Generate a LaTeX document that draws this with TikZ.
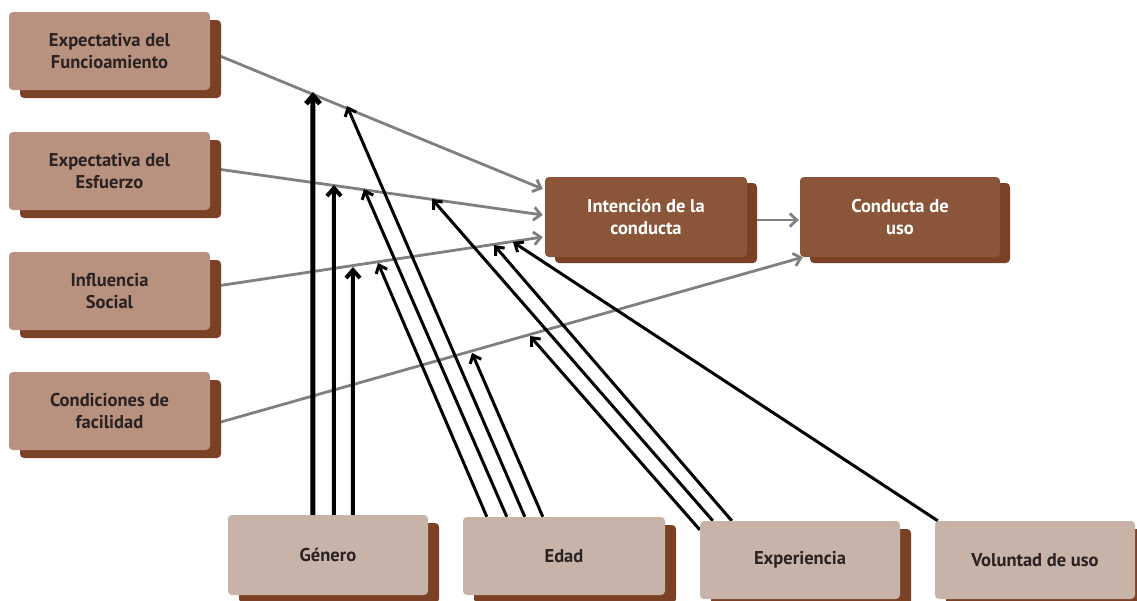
\documentclass[tikz,border=0pt]{standalone}
\usepackage{fontspec}
\setmainfont{PT Sans}
\usetikzlibrary{arrows.meta,shadows,calc}
\pgfdeclarelayer{bg}
\pgfdeclarelayer{links}
\pgfsetlayers{bg,links,main}
\definecolor{boxleft}{HTML}{B8927F}
\definecolor{boxbottom}{HTML}{C8B3A8}
\definecolor{boxdark}{HTML}{8A5538}
\definecolor{shade}{HTML}{7B4124}
\definecolor{link}{HTML}{808080}
\definecolor{ink}{HTML}{2A2222}
\tikzset{
  x=1pt, y=-1pt,
  card/.style={rounded corners=4pt, inner sep=0pt, align=center,
    font=\bfseries\fontsize{18.5}{22}\selectfont},
  factor/.style={card, fill=boxleft, text=ink, minimum width=201pt, minimum height=78pt,
    general shadow={fill=shade, shadow xshift=11pt, shadow yshift=-8pt}},
  outcome/.style={card, fill=boxdark, text=white, minimum width=202pt, minimum height=80pt,
    general shadow={fill=shade, shadow xshift=10pt, shadow yshift=-6pt}},
  moderator/.style={card, fill=boxbottom, text=ink, minimum width=200pt, minimum height=78pt,
    general shadow={fill=shade, shadow xshift=11pt, shadow yshift=-8pt}},
  effect/.style={draw=link, line width=2.8pt, -{Straight Barb[length=7pt,width=13pt]}},
  modarrow/.style={draw=black, line width=3pt, -{Straight Barb[length=7pt,width=12pt]}},
  boldmod/.style={modarrow, -{Straight Barb[length=8pt,width=14pt]}},
}
\begin{document}
\begin{tikzpicture}
\useasboundingbox (0,0) rectangle (1137,600);
\begin{pgfonlayer}{bg}
  \fill[white] (0,0) rectangle (1137,600);
\end{pgfonlayer}

% determinants
\node[factor] (fe) at (109.5,51)  {Expectativa del\\Funcioamiento};
\node[factor] (ee) at (109.5,171) {Expectativa del\\Esfuerzo};
\node[factor] (is) at (109.5,291) {Influencia\\Social};
\node[factor] (cf) at (109.5,411) {Condiciones de\\facilidad};

% intention and behaviour
\node[outcome] (int) at (646,217) {Intención de la\\conducta};
\node[outcome, minimum width=200pt] (cu) at (900,217) {Conducta de\\uso};

% moderators
\node[moderator, minimum height=80pt] (gen) at (328,555) {Género};
\node[moderator, minimum width=202pt] (eda) at (564,556) {Edad};
\node[moderator] (exp) at (800,560) {Experiencia};
\node[moderator] (vol) at (1035,560) {Voluntad de uso};

% points where moderating arrows meet the effect lines
\coordinate (g1) at (313,92);
\coordinate (g2) at (334,185);
\coordinate (g3) at (353,267);
\coordinate (e1) at (347,106);
\coordinate (e2) at (364,189);
\coordinate (e3) at (378,263);
\coordinate (e4) at (472,353);
\coordinate (x1) at (530,336);
\coordinate (x2) at (432,199);
\coordinate (x3) at (494,245);
\coordinate (v1) at (513,242);

\begin{pgfonlayer}{links}
  % main effects
  \draw[effect] ($(fe.east)+(0,1)$)  -- ($(int.west)+(-2,-28)$);
  \draw[effect] ($(ee.east)+(0,-3)$) -- ($(int.west)+(-2,-2)$);
  \draw[effect] ($(is.east)+(0,-4)$) -- ($(int.west)+(-2,20)$);
  \draw[effect] ($(cf.east)+(0,14)$) -- ($(cu.south west)+(3,0)$);
  \draw[effect] ($(int.east)+(0,3)$) -- ($(cu.west)+(-1,3)$);

  % gender
  \draw[boldmod, line width=5pt] ($(gen.north west)+(85,0)$)  -- (g1);
  \draw[boldmod, line width=4pt] ($(gen.north west)+(106,0)$) -- (g2);
  \draw[boldmod, line width=4pt] ($(gen.north west)+(125,0)$) -- (g3);
  % age
  \draw[modarrow] ($(eda.north west)+(62,0)$) -- (e1);
  \draw[modarrow] ($(eda.north west)+(44,0)$) -- (e2);
  \draw[modarrow] ($(eda.north west)+(24,0)$) -- (e3);
  \draw[modarrow] ($(eda.north west)+(80,0)$) -- (e4);
  % experience
  \draw[modarrow] ($(exp.north west)+(0,9)$)  -- (x1);
  \draw[modarrow] ($(exp.north west)+(13,0)$) -- (x2);
  \draw[modarrow] ($(exp.north west)+(32,0)$) -- (x3);
  % voluntariness
  \draw[modarrow] ($(vol.north west)+(3,0)$) -- (v1);
\end{pgfonlayer}
\end{tikzpicture}
\end{document}
